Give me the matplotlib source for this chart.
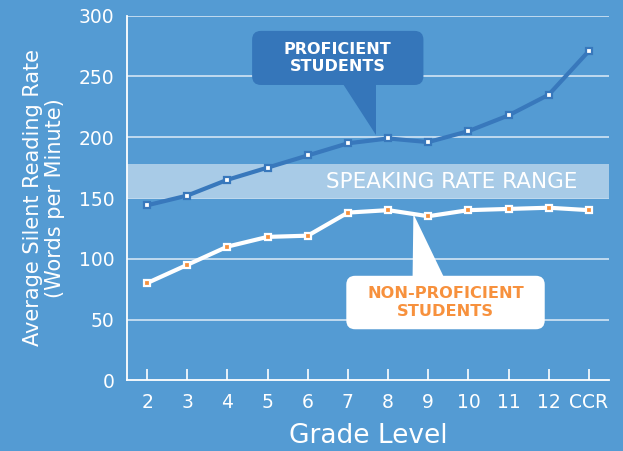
import numpy as np
import matplotlib.pyplot as plt
from matplotlib.patches import FancyBboxPatch, Polygon

# ── data ──────────────────────────────────────────────────────────────────────
grades         = ['2', '3', '4', '5', '6', '7', '8', '9', '10', '11', '12', 'CCR']
proficient     = [144, 152, 165, 175, 185, 195, 199, 196, 205, 218, 235, 271]
non_proficient = [80, 95, 110, 118, 119, 138, 140, 135, 140, 141, 142, 140]
speaking_range = (150, 178)

# ── style ─────────────────────────────────────────────────────────────────────
BG        = '#549bd3'
DARK_BLUE = '#3878bc'
BOX_BLUE  = '#3576ba'
BAND      = '#a8cbe7'
ORANGE    = '#f7913d'
GRID      = '#c9dff2'

plt.rcParams['font.family'] = ['DejaVu Sans']

fig = plt.figure(figsize=(6.23, 4.51), dpi=100, facecolor=BG)
ax = fig.add_axes([127 / 623, 1 - 380.3 / 451, (609 - 127) / 623, (380.3 - 15.7) / 451])
ax.set_facecolor(BG)

x = np.arange(len(grades))
ax.set_xlim(-0.5, len(grades) - 0.5)
ax.set_ylim(0, 300)

# grid + band
for y in range(50, 301, 50):
    ax.axhline(y, color=GRID, lw=1.3, zorder=1)
ax.axhspan(*speaking_range, color=BAND, zorder=1.5, lw=0)
ax.text(7.58, np.mean(speaking_range) - 1, 'SPEAKING RATE RANGE', color='white',
        fontsize=15.5, ha='center', va='center', zorder=2)

# series
ax.plot(x, proficient, color=DARK_BLUE, lw=3, marker='s', ms=5,
        mfc='white', mec=DARK_BLUE, mew=1.6, zorder=4, clip_on=False)
ax.plot(x, non_proficient, color='white', lw=3, marker='s', ms=5,
        mfc=ORANGE, mec='white', mew=1.6, zorder=4, clip_on=False)

# ── callouts ──────────────────────────────────────────────────────────────────
ASPECT = 33.0   # y data units per x data unit for equal pixel radius

box = FancyBboxPatch((2.615, 243), 6.88 - 2.615, 287.5 - 243,
                     boxstyle='round,pad=0,rounding_size=0.22',
                     mutation_aspect=ASPECT, fc=BOX_BLUE, ec='none', zorder=5)
ax.add_patch(box)
ax.add_patch(Polygon([(4.89, 243.5), (5.71, 243.5), (5.71, 202)],
                     closed=True, fc=BOX_BLUE, ec='none', zorder=5))
ax.text(4.74, 265, 'PROFICIENT\nSTUDENTS', color='white', fontsize=11.5,
        fontweight='bold', ha='center', va='center', linespacing=1.2, zorder=6)

box2 = FancyBboxPatch((4.96, 42), 9.9 - 4.96, 86 - 42,
                      boxstyle='round,pad=0,rounding_size=0.22',
                      mutation_aspect=ASPECT, fc='white', ec='none', zorder=5)
ax.add_patch(box2)
ax.add_patch(Polygon([(6.61, 85.5), (7.38, 85.5), (6.63, 137)],
                     closed=True, fc='white', ec='none', zorder=5))
ax.text(7.43, 64, 'NON-PROFICIENT\nSTUDENTS', color=ORANGE, fontsize=11.7,
        fontweight='bold', ha='center', va='center', linespacing=1.2, zorder=6)

# ── axes ──────────────────────────────────────────────────────────────────────
for side in ['top', 'right']:
    ax.spines[side].set_visible(False)
for side in ['left', 'bottom']:
    ax.spines[side].set_color('white')
    ax.spines[side].set_linewidth(1.3)
    ax.spines[side].set_zorder(3)

ax.set_xticks(x)
ax.set_xticklabels(grades)
ax.set_yticks(range(0, 301, 50))
ax.tick_params(axis='x', direction='in', length=8, width=1.2, color='white',
               labelcolor='white', labelsize=13.5, pad=9)
ax.tick_params(axis='y', length=0, labelcolor='white', labelsize=13.5, pad=9)

ax.set_xlabel('Grade Level', color='white', fontsize=19, labelpad=8)
ax.set_ylabel('Average Silent Reading Rate\n(Words per Minute)', color='white',
              fontsize=15, labelpad=10, linespacing=1.15)

fig.savefig('out.png', dpi=100, facecolor=BG)
